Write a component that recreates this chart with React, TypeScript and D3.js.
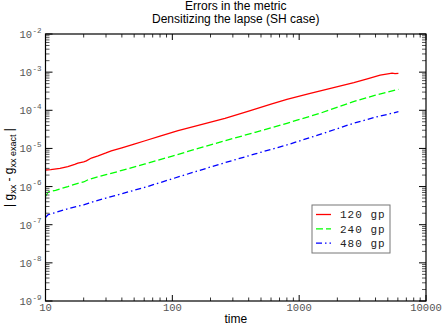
import React from "react";
import * as d3 from "d3";

const titleLines = ["Errors in the metric", "Densitizing the lapse (SH case)"];
const xLabel = "time";

const xTickLabels = ["10", "100", "1000", "10000"];
const yExponents = ["-9", "-8", "-7", "-6", "-5", "-4", "-3", "-2"];

const seriesNames = ["120 gp", "240 gp", "480 gp"];
const seriesColors = ["#ff0000", "#00ff00", "#0000ff"];
const seriesDash = ["none", "7,3", "6,3,1.5,3"];

const timeA = [10, 11, 13, 15, 17, 18, 20, 21, 23, 26, 30, 33, 40, 50, 61, 80, 111, 160, 260, 400, 600, 800, 1200, 1800, 2700, 3500, 4350, 5000, 5400, 5700, 6060];
const errA = [2.72e-6, 2.78e-6, 3.0e-6, 3.35e-6, 3.8e-6, 4.1e-6, 4.45e-6, 4.7e-6, 5.6e-6, 6.4e-6, 7.6e-6, 8.6e-6, 1.04e-5, 1.3e-5, 1.59e-5, 2.1e-5, 2.92e-5, 4.0e-5, 6.17e-5, 9.5e-5, 1.45e-4, 1.94e-4, 2.75e-4, 3.8e-4, 5.3e-4, 6.8e-4, 8.4e-4, 9.0e-4, 9.4e-4, 9.1e-4, 9.3e-4];

const timeB = [10, 10.5, 12, 15, 18, 20, 22, 25, 30, 40, 61, 100, 160, 260, 450, 800, 1500, 2676, 4000, 6060];
const errB = [5.5e-7, 7.2e-7, 8.0e-7, 1.0e-6, 1.22e-6, 1.32e-6, 1.55e-6, 1.75e-6, 2.05e-6, 2.65e-6, 3.91e-6, 6.3e-6, 1.0e-5, 1.59e-5, 2.65e-5, 4.56e-5, 8.6e-5, 1.68e-4, 2.5e-4, 3.55e-4];

const timeC = [10, 10.5, 11.5, 14, 18, 20, 22, 25, 30, 40, 61, 100, 160, 260, 450, 800, 1500, 2676, 4000, 6060];
const errC = [1.55e-7, 1.85e-7, 2.0e-7, 2.45e-7, 3.05e-7, 3.3e-7, 3.7e-7, 4.2e-7, 5.0e-7, 6.5e-7, 9.6e-7, 1.6e-6, 2.6e-6, 4.23e-6, 7.2e-6, 1.23e-5, 2.4e-5, 4.56e-5, 6.6e-5, 9.18e-5];

const W = 443, H = 327;
const left = 45.5, right = 426, top = 34, bottom = 301;

export default function App() {
    const x = d3.scaleLog().domain([10, 10000]).range([left, right]);
    const y = d3.scaleLog().domain([1e-9, 1e-2]).range([bottom, top]);

    const isMajor = (v: number) => Math.abs(Math.log10(v) - Math.round(Math.log10(v))) < 1e-9;
    const xTicks = x.ticks();
    const yTicks = y.ticks();

    const line = d3.line<[number, number]>()
        .x(d => x(d[0]))
        .y(d => y(d[1]));

    const series = [
        d3.zip(timeA, errA) as [number, number][],
        d3.zip(timeB, errB) as [number, number][],
        d3.zip(timeC, errC) as [number, number][],
    ];

    const mono = "'Liberation Mono', 'DejaVu Sans Mono', monospace";
    const sans = "'Liberation Sans', Arial, sans-serif";
    const cx = (left + right) / 2;
    const cy = (top + bottom) / 2;

    // legend box
    const lx = 312, ly = 205, lw = 78, lh = 48;

    return (
        <div style={{ position: "fixed", left: 0, top: 0 }}>
            <svg width={W} height={H} style={{ display: "block", background: "#fff" }}>
                {titleLines.map((t, i) => (
                    <text key={t} x={cx} y={10 + i * 13} textAnchor="middle" fontFamily={sans} fontSize={12} fill="#000">{t}</text>
                ))}

                {/* data */}
                <g fill="none" strokeWidth={1.3}>
                    {series.map((s, i) => (
                        <path key={i} d={line(s) || ""} stroke={seriesColors[i]} strokeDasharray={seriesDash[i]} />
                    ))}
                </g>

                {/* x ticks, bottom and top, inward */}
                {xTicks.map((v, i) => {
                    const len = isMajor(v) ? 6 : 3.5;
                    const col = isMajor(v) ? "#000" : "#333";
                    return (
                        <g key={"x" + i} stroke={col} strokeWidth={1}>
                            <line x1={x(v)} x2={x(v)} y1={bottom} y2={bottom - len} />
                            <line x1={x(v)} x2={x(v)} y1={top} y2={top + len} />
                        </g>
                    );
                })}
                {yTicks.map((v, i) => {
                    const len = isMajor(v) ? 7 : 4;
                    const col = isMajor(v) ? "#000" : "#555";
                    return (
                        <g key={"y" + i} stroke={col} strokeWidth={1}>
                            <line x1={left} x2={left + len} y1={y(v)} y2={y(v)} />
                            <line x1={right} x2={right - len} y1={y(v)} y2={y(v)} />
                        </g>
                    );
                })}

                <rect x={left} y={top} width={right - left} height={bottom - top} fill="none" stroke="#000" strokeWidth={1.2} />

                {/* x tick labels */}
                {xTickLabels.map(t => (
                    <text key={t} x={x(+t)} y={311} textAnchor="middle" fontFamily={mono} fontSize={10.5} fill="#555">{t}</text>
                ))}
                <text x={cx} y={323} textAnchor="middle" fontFamily={sans} fontSize={12} fill="#000">{xLabel}</text>

                {/* y tick labels */}
                {yExponents.map(e => (
                    <text key={e} x={32} y={y(Math.pow(10, +e)) + 4} textAnchor="end" fontFamily={mono} fontSize={10.5} fill="#555">10</text>
                ))}
                {yExponents.map(e => (
                    <text key={"s" + e} x={32.5} y={y(Math.pow(10, +e)) - 1.5} fontFamily={mono} fontSize={7.5} fill="#555">{e}</text>
                ))}

                {/* y axis label */}
                <text transform={`translate(13,${cy}) rotate(-90)`} textAnchor="middle" fontFamily={sans} fontSize={12} fill="#000">
                    <tspan>| g</tspan>
                    <tspan fontSize={9} dy={3}>xx</tspan>
                    <tspan dy={-3}> - g</tspan>
                    <tspan fontSize={9} dy={3}>xx exact</tspan>
                    <tspan dy={-3}> |</tspan>
                </text>

                {/* legend */}
                <rect x={lx} y={ly} width={lw} height={lh} fill="#fff" stroke="#777" strokeWidth={1} />
                {seriesNames.map((n, i) => (
                    <g key={n}>
                        <line x1={lx + 4} x2={lx + 19} y1={ly + 9.5 + i * 14.3} y2={ly + 9.5 + i * 14.3}
                            stroke={seriesColors[i]} strokeWidth={1.3} strokeDasharray={seriesDash[i]} />
                        <text x={lx + 28} y={ly + 13.3 + i * 14.3} fontFamily={mono} fontSize={11} letterSpacing={1} fill="#222">{n}</text>
                    </g>
                ))}
            </svg>
        </div>
    );
}
